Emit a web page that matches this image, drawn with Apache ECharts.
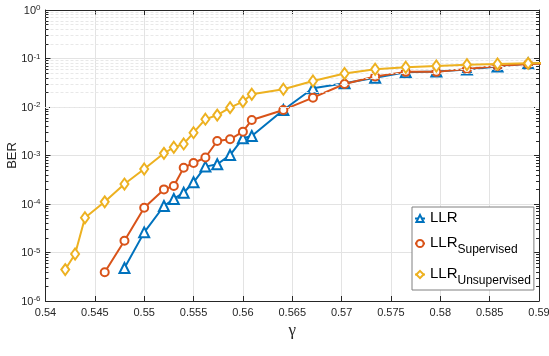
<!DOCTYPE html>
<html>
<head>
<meta charset="utf-8">
<script src="https://cdn.jsdelivr.net/npm/echarts@6/dist/echarts.min.js"></script>
<style>html,body{margin:0;padding:0;background:#fff}#c{width:549px;height:356px}</style>
</head>
<body>
<div id="c"></div>
<script>
// ---- data ----
const gamma = [0.542, 0.543, 0.544, 0.546, 0.548, 0.550, 0.552, 0.553, 0.554, 0.555, 0.5562, 0.5574, 0.5587, 0.5600, 0.5609, 0.5641, 0.5671, 0.5703, 0.5734, 0.5765, 0.5796, 0.5827, 0.5858, 0.5889, 0.5920];
const berLLR = [null, null, null, null, 4.8e-6, 2.6e-5, 9.1e-5, 1.27e-4, 1.71e-4, 2.8e-4, 5.9e-4, 6.6e-4, 1.02e-3, 2.26e-3, 2.52e-3, 8.7e-3, 2.43e-2, 3.1e-2, 4.0e-2, 5.2e-2, 5.4e-2, 5.9e-2, 6.8e-2, 7.9e-2, 8.2e-2];
const berSup = [null, null, null, 3.9e-6, 1.75e-5, 8.4e-5, 2.0e-4, 2.35e-4, 5.6e-4, 7.0e-4, 9.1e-4, 1.99e-3, 2.16e-3, 3.1e-3, 5.4e-3, 8.7e-3, 1.56e-2, 2.98e-2, 4.26e-2, 5.3e-2, 5.3e-2, 6.1e-2, 7.0e-2, 7.7e-2, 8.0e-2];
const berUnsup = [4.45e-6, 9.3e-6, 5.2e-5, 1.11e-4, 2.58e-4, 5.27e-4, 1.11e-3, 1.48e-3, 1.73e-3, 2.95e-3, 5.6e-3, 6.8e-3, 9.7e-3, 1.29e-2, 1.83e-2, 2.32e-2, 3.44e-2, 4.9e-2, 6.0e-2, 6.6e-2, 7.0e-2, 7.45e-2, 7.7e-2, 7.96e-2, 8.2e-2];
const seriesNames = ['LLR', 'LLR_Supervised', 'LLR_Unsupervised'];
const xMin = 0.54, xMax = 0.59, xStep = 0.005;
const minorGrid = [];
for (let e = -6; e < 0; e++) for (let m = 2; m <= 9; m++) minorGrid.push(m * Math.pow(10, e));

const pairs = vals => gamma.map((g, i) => [g, vals[i]]).filter(p => p[1] != null);
const C = ['#0072BD', '#D95319', '#EDB120'];
const AX = '#262626';
const FONT = 'Liberation Sans, Arial, sans-serif';
const tickLen = (xMax - xMin) * 0.006;

function mk(name, vals, color, symbol, size, z) {
  return {
    name, type: 'line', data: pairs(vals), color: color,
    symbol, symbolSize: size, z,
    lineStyle: { color: color, width: 2 },
    itemStyle: { color: '#fff', borderColor: color, borderWidth: 2 },
    clip: true
  };
}

const minorTicks = [];
minorGrid.forEach(v => {
  minorTicks.push([{ coord: [xMin, v] }, { coord: [xMin + tickLen, v] }]);
  minorTicks.push([{ coord: [xMax - tickLen, v] }, { coord: [xMax, v] }]);
});

const chart = echarts.init(document.getElementById('c'), null, { renderer: 'canvas' });
chart.setOption({
  animation: false,
  backgroundColor: '#fff',
  textStyle: { fontFamily: FONT },
  grid: { left: 45.5, right: 10, top: 10, bottom: 55, containLabel: false, outerBoundsMode: 'none' },
  legend: {
    data: seriesNames,
    orient: 'vertical',
    left: 412, top: 207,
    padding: [3, 3, 3, 2],
    itemGap: 10,
    itemWidth: 10, itemHeight: 9,
    backgroundColor: '#fff',
    borderColor: '#808080', borderWidth: 1, borderRadius: 0,
    formatter: n => {
      const p = n.split('_');
      return p.length > 1 ? '{m|' + p[0] + '}{s|' + p[1] + '}' : '{m|' + p[0] + '}';
    },
    textStyle: {
      color: '#000',
      rich: {
        m: { fontSize: 15, fontFamily: FONT, color: '#000', verticalAlign: 'top', lineHeight: 17 },
        s: { fontSize: 12, fontFamily: FONT, color: '#000', verticalAlign: 'top', lineHeight: 13, padding: [9, 0, 0, 0] }
      }
    }
  },
  xAxis: [{
    type: 'value', min: xMin, max: xMax, interval: xStep,
    name: 'γ', nameLocation: 'middle', nameGap: 21, nameMoveOverlap: false,
    nameTextStyle: { fontFamily: 'Liberation Serif, DejaVu Serif, serif', fontSize: 17, color: AX },
    axisLine: { show: true, onZero: false, lineStyle: { color: AX, width: 1 } },
    axisTick: { show: true, inside: true, length: 5, lineStyle: { color: AX } },
    axisLabel: { color: AX, fontSize: 11, margin: 6, formatter: v => String(parseFloat(v.toFixed(3))) },
    splitLine: { show: true, lineStyle: { color: '#e3e3e3', width: 1 } }
  }, {
    type: 'value', min: xMin, max: xMax, interval: xStep, position: 'top',
    axisLine: { show: true, onZero: false, lineStyle: { color: AX, width: 1 } },
    axisTick: { show: true, inside: true, length: 5, lineStyle: { color: AX } },
    axisLabel: { show: false }, splitLine: { show: false }
  }],
  yAxis: [{
    type: 'log', logBase: 10, min: 1e-6, max: 1,
    name: 'BER', nameLocation: 'middle', nameGap: 27, nameMoveOverlap: false,
    nameTextStyle: { fontSize: 13, color: AX, fontFamily: FONT },
    axisLine: { show: true, onZero: false, lineStyle: { color: AX, width: 1 } },
    axisTick: { show: true, inside: true, length: 5, lineStyle: { color: AX } },
    axisLabel: {
      color: AX, margin: 5,
      formatter: v => '{b|10}{s|' + Math.round(Math.log10(v)) + '}',
      rich: {
        b: { fontSize: 11, color: AX, fontFamily: FONT, verticalAlign: 'bottom', lineHeight: 12 },
        s: { fontSize: 8, color: AX, fontFamily: FONT, verticalAlign: 'top', lineHeight: 8, padding: [0, 0, 7, 0] }
      }
    },
    splitLine: { show: true, lineStyle: { color: '#e3e3e3', width: 1 } }
  }, {
    type: 'log', logBase: 10, min: 1e-6, max: 1, position: 'right',
    axisLine: { show: true, onZero: false, lineStyle: { color: AX, width: 1 } },
    axisTick: { show: true, inside: true, length: 5, lineStyle: { color: AX } },
    axisLabel: { show: false }, splitLine: { show: false }
  }],
  series: [
    {
      name: 'minorGrid', type: 'line', data: [], z: 1, silent: true,
      markLine: {
        silent: true, symbol: 'none', animation: false,
        label: { show: false },
        lineStyle: { color: '#e8e8e8', type: [3, 2], width: 1 },
        data: minorGrid.map(v => ({ yAxis: v }))
      }
    },
    {
      name: 'minorTicks', type: 'line', data: [], z: 2, silent: true,
      markLine: {
        silent: true, symbol: 'none', animation: false,
        label: { show: false },
        lineStyle: { color: AX, type: 'solid', width: 1 },
        data: minorTicks
      }
    },
    mk(seriesNames[0], berLLR, C[0], 'triangle', 10, 3),
    mk(seriesNames[1], berSup, C[1], 'circle', 8, 4),
    mk(seriesNames[2], berUnsup, C[2], 'diamond', [8, 11], 5)
  ]
});
</script>
</body>
</html>
